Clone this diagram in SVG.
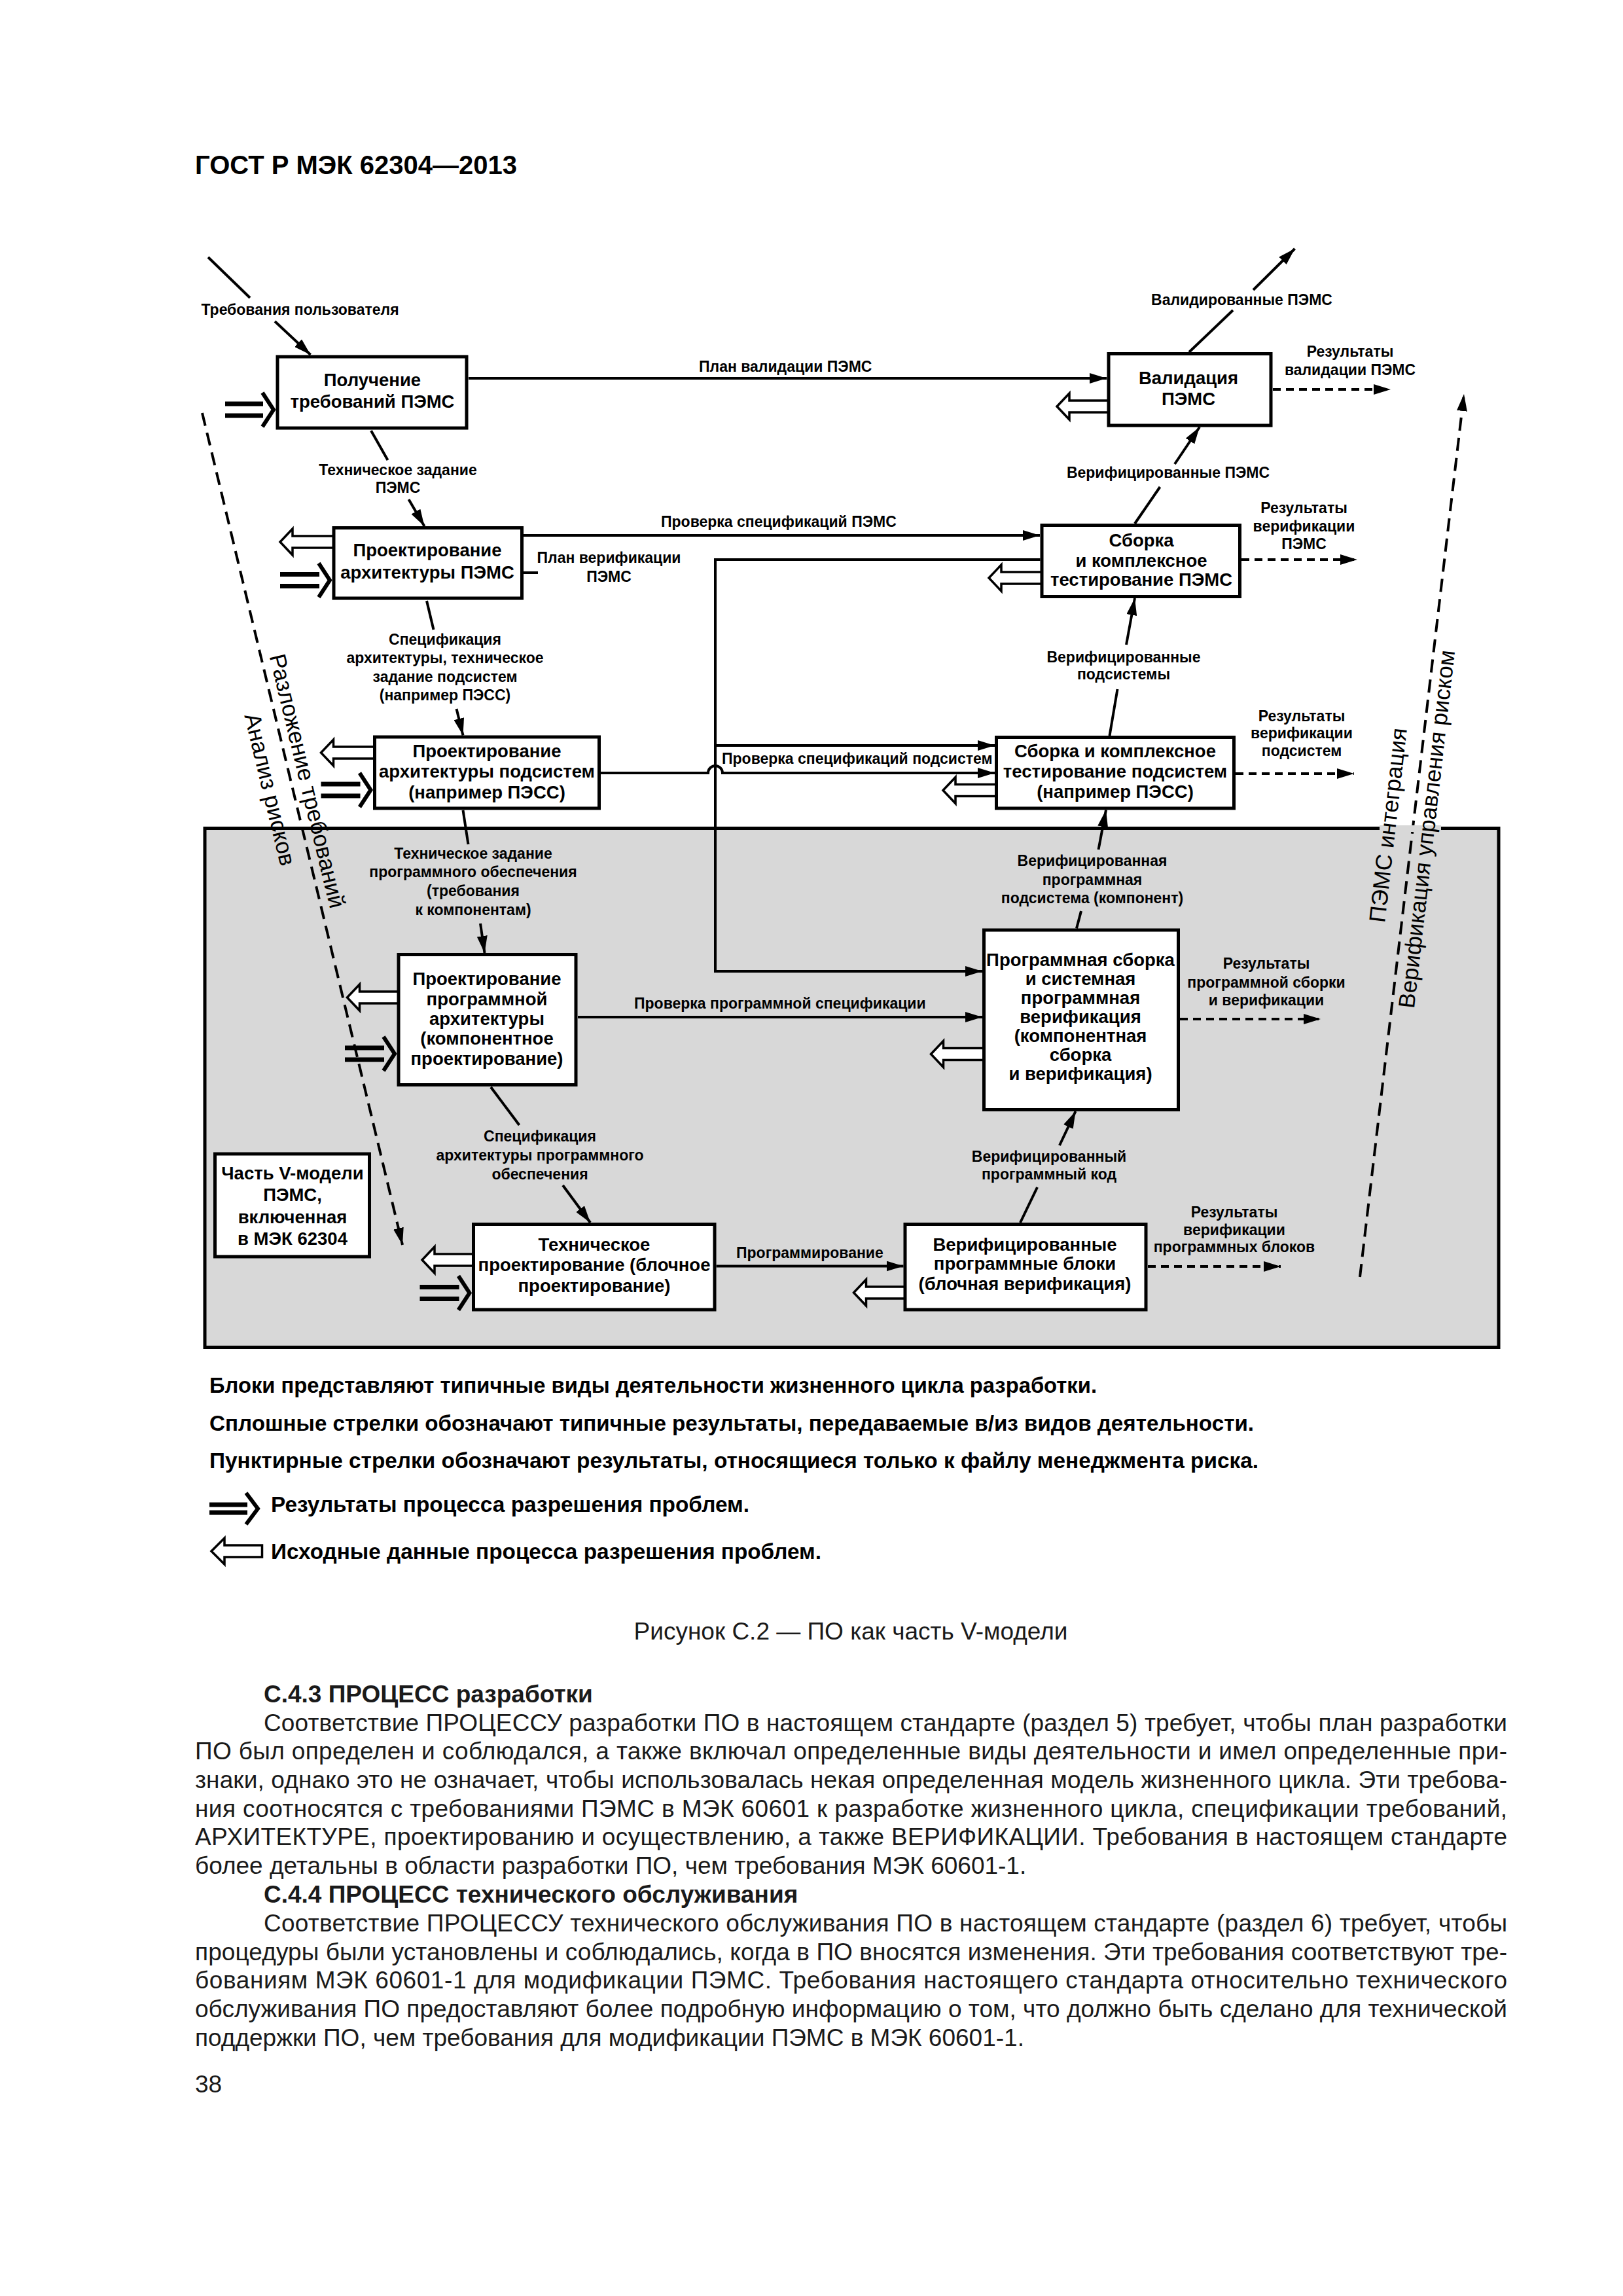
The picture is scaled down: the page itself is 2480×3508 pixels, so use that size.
<svg xmlns="http://www.w3.org/2000/svg" width="2480" height="3508" viewBox="0 0 2480 3508">
<style>
text{font-family:"Liberation Sans",Arial,"DejaVu Sans",sans-serif;fill:#000}
.box{fill:#fff;stroke:#000;stroke-width:5}
.bt{font-weight:bold;font-size:27.5px;text-anchor:middle}
.lb{font-weight:bold;font-size:23px;text-anchor:middle}
.ls{font-weight:bold;font-size:23px;text-anchor:start}
.ln{fill:none;stroke:#000;stroke-width:4}
.ar{marker-end:url(#ah)}
.dsh{stroke-dasharray:12 8}
.vd{stroke-dasharray:20 11}
.hol{fill:#fff;stroke:#000;stroke-width:3.5;stroke-linejoin:miter}
.bar{stroke:#000;stroke-width:7}
.chev{fill:none;stroke:#000;stroke-width:6;stroke-linejoin:miter}
.rot{font-size:35px;text-anchor:middle}
.body{font-size:37px;fill:#1a1a1a}
.hd{font-weight:bold}
.leg{font-weight:bold;font-size:32.5px}
</style>
<defs>
<marker id="ah" markerUnits="userSpaceOnUse" viewBox="0 0 26 16" refX="26" refY="8" markerWidth="26" markerHeight="16" orient="auto">
<path d="M0,0 L26,8 L0,16 Z" fill="#000"/>
</marker>
</defs>
<rect width="2480" height="3508" fill="#fff"/>
<text x="298" y="266" style="font-weight:bold;font-size:40px" fill="#111">ГОСТ Р МЭК 62304—2013</text>

<g id="scope">
<rect x="313" y="1265.5" width="1977" height="793" fill="#d8d8d8" stroke="#000" stroke-width="5"/>
</g>

<g id="connectors">
<path class="ln" d="M318,393 L382,455"/>
<path class="ln ar" d="M420,491 L474.5,542"/>
<path class="ln" d="M567,658 L592.5,703"/>
<path class="ln ar" d="M624.5,763 L648.5,804"/>
<path class="ln ar" d="M716,578 H1691"/>
<path class="ln ar" d="M800,818 H1589"/>
<path class="ln" d="M800,875 H822"/>
<path class="ln ar" d="M1589.5,855 H1093 V1484 H1501"/>
<path class="ln ar" d="M1093,1139 H1520"/>
<path class="ln ar" d="M918,1181 H1082 A11,11 0 0 1 1104,1181 H1520"/>
<path class="ln ar" d="M883,1554 H1501"/>
<path class="ln ar" d="M1094.5,1934.5 H1380.5"/>
<path class="ln" d="M652,918 L662.5,962"/>
<path class="ln ar" d="M697.5,1083 L707.5,1123.5"/>
<path class="ln" d="M707.5,1238 L715.5,1290"/>
<path class="ln ar" d="M734,1411 L740.5,1456"/>
<path class="ln" d="M750,1661 L793.5,1719"/>
<path class="ln ar" d="M860,1811 L902,1868"/>
<path class="ln" d="M1559,1868 L1585,1814"/>
<path class="ln ar" d="M1619,1750 L1643.5,1698"/>
<path class="ln" d="M1645,1418.5 L1652,1392"/>
<path class="ln ar" d="M1678.5,1298 L1690,1237.5"/>
<path class="ln" d="M1695.5,1124 L1707.5,1053"/>
<path class="ln ar" d="M1721,985 L1734,914"/>
<path class="ln" d="M1734,800 L1772.5,744"/>
<path class="ln ar" d="M1795,709 L1833,652.5"/>
<path class="ln" d="M1817,538 L1884,474"/>
<path class="ln ar" d="M1915,443 L1978.5,380"/>
<path class="ln dsh ar" d="M1945,595 H2125"/>
<path class="ln dsh ar" d="M1897,855 H2074"/>
<path class="ln dsh ar" d="M1888,1182 H2069"/>
<path class="ln dsh ar" d="M1803,1557 H2018"/>
<path class="ln dsh ar" d="M1754,1935 H1957"/>
<path class="ln vd ar" d="M309,631 L615,1902"/>
<path class="ln vd ar" d="M2078,1951 L2237,602"/>
<rect x="2108" y="1261" width="94" height="10" fill="#d8d8d8"/>
<!-- problem-resolution inputs (hollow) -->
<path class="hol" d="M508,819 H447 V808 L428,828 L447,848 V837 H508"/>
<path class="hol" d="M570.5,1141 H509.5 V1130 L490.5,1150 L509.5,1170 V1159 H570.5"/>
<path class="hol" d="M607,1515 H549.5 V1504 L530.5,1524 L549.5,1544 V1533 H607"/>
<path class="hol" d="M721.5,1916 H664 V1905 L645,1925 L664,1945 V1934 H721.5"/>
<path class="hol" d="M1381,1966 H1323.5 V1955 L1304.5,1975 L1323.5,1995 V1984 H1381"/>
<path class="hol" d="M1501.5,1601.5 H1441.5 V1590.5 L1422.5,1610.5 L1441.5,1630.5 V1619.5 H1501.5"/>
<path class="hol" d="M1520.5,1198.5 H1460 V1187.5 L1441,1207.5 L1460,1227.5 V1216.5 H1520.5"/>
<path class="hol" d="M1590,874 H1530 V863 L1511,883 L1530,903 V892 H1590"/>
<path class="hol" d="M1692,612 H1634 V601 L1615,621 L1634,641 V630 H1692"/>
<!-- problem-resolution outputs (solid double) -->
<path class="bar" d="M344,617 H402 M344,635 H402"/>
<polyline class="chev" points="401,600 418,626 401,652"/>
<path class="bar" d="M428,877.5 H488 M428,895.5 H488"/>
<polyline class="chev" points="487,860.5 504,886.5 487,912.5"/>
<path class="bar" d="M490.5,1198 H550.5 M490.5,1216 H550.5"/>
<polyline class="chev" points="549.5,1181 566.5,1207 549.5,1233"/>
<path class="bar" d="M527,1601 H587 M527,1619 H587"/>
<polyline class="chev" points="586,1584 603,1610 586,1636"/>
<path class="bar" d="M641.5,1966.5 H701.5 M641.5,1984.5 H701.5"/>
<polyline class="chev" points="700.5,1949.5 717.5,1975.5 700.5,2001.5"/>
</g>

<g id="n1"><rect class="box" x="424" y="545" width="289" height="109"/>
<text class="bt" x="569" y="590">Получение</text><text class="bt" x="569" y="623">требований ПЭМС</text></g>
<g id="n2"><rect class="box" x="510" y="806.5" width="287.5" height="107.5"/>
<text class="bt" x="653" y="850">Проектирование</text><text class="bt" x="653" y="884">архитектуры ПЭМС</text></g>
<g id="n3"><rect class="box" x="572.5" y="1126" width="343" height="109"/>
<text class="bt" x="744" y="1157">Проектирование</text><text class="bt" x="744" y="1188">архитектуры подсистем</text><text class="bt" x="744" y="1220">(например ПЭСС)</text></g>
<g id="n4"><rect class="box" x="609" y="1458.5" width="271" height="199"/>
<text class="bt" x="744" y="1505">Проектирование</text><text class="bt" x="744" y="1536">программной</text><text class="bt" x="744" y="1566">архитектуры</text><text class="bt" x="744" y="1596">(компонентное</text><text class="bt" x="744" y="1627">проектирование)</text></g>
<g id="n5"><rect class="box" x="723.5" y="1870.5" width="368.5" height="130.5"/>
<text class="bt" x="908" y="1911">Техническое</text><text class="bt" x="908" y="1942">проектирование (блочное</text><text class="bt" x="908" y="1974">проектирование)</text></g>
<g id="n6"><rect class="box" x="1383" y="1870.5" width="368" height="130.5"/>
<text class="bt" x="1566" y="1911">Верифицированные</text><text class="bt" x="1566" y="1940">программные блоки</text><text class="bt" x="1566" y="1971">(блочная верификация)</text></g>
<g id="n7"><rect class="box" x="1503.5" y="1421" width="297" height="274.5"/>
<text class="bt" x="1651" y="1476">Программная сборка</text><text class="bt" x="1651" y="1505">и системная</text><text class="bt" x="1651" y="1534">программная</text><text class="bt" x="1651" y="1563">верификация</text><text class="bt" x="1651" y="1592">(компонентная</text><text class="bt" x="1651" y="1621">сборка</text><text class="bt" x="1651" y="1650">и верификация)</text></g>
<g id="n8"><rect class="box" x="1522.5" y="1126.5" width="363" height="108.5"/>
<text class="bt" x="1704" y="1157">Сборка и комплексное</text><text class="bt" x="1704" y="1188">тестирование подсистем</text><text class="bt" x="1704" y="1219">(например ПЭСС)</text></g>
<g id="n9"><rect class="box" x="1592" y="802.5" width="302.5" height="109"/>
<text class="bt" x="1744" y="835">Сборка</text><text class="bt" x="1744" y="866">и комплексное</text><text class="bt" x="1744" y="895">тестирование ПЭМС</text></g>
<g id="n10"><rect class="box" x="1694" y="540.5" width="248" height="109.5"/>
<text class="bt" x="1816" y="587">Валидация</text><text class="bt" x="1816" y="619">ПЭМС</text></g>
<g id="n11"><rect class="box" x="328.5" y="1763" width="236" height="157"/>
<text class="bt" x="447" y="1802">Часть V-модели</text><text class="bt" x="447" y="1835">ПЭМС,</text><text class="bt" x="447" y="1869">включенная</text><text class="bt" x="447" y="1902">в МЭК 62304</text></g>

<g id="labels">
<text class="lb" x="458.5" y="481">Требования пользователя</text>
<text class="lb" x="608" y="726">Техническое задание</text><text class="lb" x="608" y="753">ПЭМС</text>
<text class="ls" x="1068" y="568">План валидации ПЭМС</text>
<text class="ls" x="1010" y="805">Проверка спецификаций ПЭМС</text>
<text class="lb" x="930.5" y="860">План верификации</text><text class="lb" x="930.5" y="889">ПЭМС</text>
<text class="lb" x="680" y="985">Спецификация</text><text class="lb" x="680" y="1013">архитектуры, техническое</text><text class="lb" x="680" y="1042">задание подсистем</text><text class="lb" x="680" y="1070">(например ПЭСС)</text>
<text class="ls" x="1103" y="1167">Проверка спецификаций подсистем</text>
<text class="lb" x="723" y="1312">Техническое задание</text><text class="lb" x="723" y="1340">программного обеспечения</text><text class="lb" x="723" y="1369">(требования</text><text class="lb" x="723" y="1398">к компонентам)</text>
<text class="ls" x="969" y="1541">Проверка программной спецификации</text>
<text class="lb" x="825" y="1744">Спецификация</text><text class="lb" x="825" y="1773">архитектуры программного</text><text class="lb" x="825" y="1802">обеспечения</text>
<text class="ls" x="1125" y="1922">Программирование</text>
<text class="lb" x="1603" y="1775">Верифицированный</text><text class="lb" x="1603" y="1802">программный код</text>
<text class="lb" x="1669" y="1323">Верифицированная</text><text class="lb" x="1669" y="1352">программная</text><text class="lb" x="1669" y="1380">подсистема (компонент)</text>
<text class="lb" x="1717" y="1012">Верифицированные</text><text class="lb" x="1717" y="1038">подсистемы</text>
<text class="lb" x="1785" y="730">Верифицированные ПЭМС</text>
<text class="lb" x="1897.5" y="466">Валидированные ПЭМС</text>
<text class="lb" x="2063" y="545">Результаты</text><text class="lb" x="2063" y="573">валидации ПЭМС</text>
<text class="lb" x="1992.5" y="784">Результаты</text><text class="lb" x="1992.5" y="812">верификации</text><text class="lb" x="1992.5" y="839">ПЭМС</text>
<text class="lb" x="1989" y="1102">Результаты</text><text class="lb" x="1989" y="1128">верификации</text><text class="lb" x="1989" y="1155">подсистем</text>
<text class="lb" x="1935" y="1480">Результаты</text><text class="lb" x="1935" y="1509">программной сборки</text><text class="lb" x="1935" y="1536">и верификации</text>
<text class="lb" x="1886" y="1860">Результаты</text><text class="lb" x="1886" y="1887">верификации</text><text class="lb" x="1886" y="1913">программных блоков</text>
<text class="rot" transform="translate(458,1196) rotate(76.5)">Разложение требований</text>
<text class="rot" transform="translate(401,1209) rotate(76.5)">Анализ рисков</text>
<text class="rot" transform="translate(2133,1262) rotate(-83.5)">ПЭМС интеграция</text>
<text class="rot" transform="translate(2192,1268) rotate(-83.5)">Верификация управления риском</text>
</g>

<g id="legend">
<text class="leg" x="320" y="2128" textLength="1356" lengthAdjust="spacingAndGlyphs">Блоки представляют типичные виды деятельности жизненного цикла разработки.</text>
<text class="leg" x="320" y="2186" textLength="1596" lengthAdjust="spacingAndGlyphs">Сплошные стрелки обозначают типичные результаты, передаваемые в/из видов деятельности.</text>
<text class="leg" x="320" y="2243" textLength="1603" lengthAdjust="spacingAndGlyphs">Пунктирные стрелки обозначают результаты, относящиеся только к файлу менеджмента риска.</text>
<path class="bar" d="M320,2299 H378 M320,2311 H378"/>
<polyline class="chev" points="376,2281 394,2305 376,2329"/>
<text class="leg" x="414" y="2310" textLength="731" lengthAdjust="spacingAndGlyphs">Результаты процесса разрешения проблем.</text>
<path class="hol" d="M400.5,2361 H343 V2350 L323,2370 L343,2390 V2379 H400.5 Z"/>
<text class="leg" x="414" y="2382" textLength="841" lengthAdjust="spacingAndGlyphs">Исходные данные процесса разрешения проблем.</text>
</g>

<g id="text">
<text class="body" x="1300" y="2505" text-anchor="middle">Рисунок С.2 — ПО как часть V-модели</text>
<text class="body hd" x="403" y="2601">С.4.3 ПРОЦЕСС разработки</text>
<text class="body" x="403" y="2645" textLength="1900" lengthAdjust="spacing">Соответствие ПРОЦЕССУ разработки ПО в настоящем стандарте (раздел 5) требует, чтобы план разработки</text>
<text class="body" x="298" y="2688" textLength="2005" lengthAdjust="spacing">ПО был определен и соблюдался, а также включал определенные виды деятельности и имел определенные при-</text>
<text class="body" x="298" y="2732" textLength="2005" lengthAdjust="spacing">знаки, однако это не означает, чтобы использовалась некая определенная модель жизненного цикла. Эти требова-</text>
<text class="body" x="298" y="2776" textLength="2005" lengthAdjust="spacing">ния соотносятся с требованиями ПЭМС в МЭК 60601 к разработке жизненного цикла, спецификации требований,</text>
<text class="body" x="298" y="2819" textLength="2005" lengthAdjust="spacing">АРХИТЕКТУРЕ, проектированию и осуществлению, а также ВЕРИФИКАЦИИ. Требования в настоящем стандарте</text>
<text class="body" x="298" y="2863">более детальны в области разработки ПО, чем требования МЭК 60601-1.</text>
<text class="body hd" x="403" y="2907">С.4.4 ПРОЦЕСС технического обслуживания</text>
<text class="body" x="403" y="2951" textLength="1900" lengthAdjust="spacing">Соответствие ПРОЦЕССУ технического обслуживания ПО в настоящем стандарте (раздел 6) требует, чтобы</text>
<text class="body" x="298" y="2995" textLength="2005" lengthAdjust="spacing">процедуры были установлены и соблюдались, когда в ПО вносятся изменения. Эти требования соответствуют тре-</text>
<text class="body" x="298" y="3038" textLength="2005" lengthAdjust="spacing">бованиям МЭК 60601-1 для модификации ПЭМС. Требования настоящего стандарта относительно технического</text>
<text class="body" x="298" y="3082" textLength="2005" lengthAdjust="spacing">обслуживания ПО предоставляют более подробную информацию о том, что должно быть сделано для технической</text>
<text class="body" x="298" y="3126">поддержки ПО, чем требования для модификации ПЭМС в МЭК 60601-1.</text>
<text class="body" x="298" y="3197">38</text>
</g>
</svg>
